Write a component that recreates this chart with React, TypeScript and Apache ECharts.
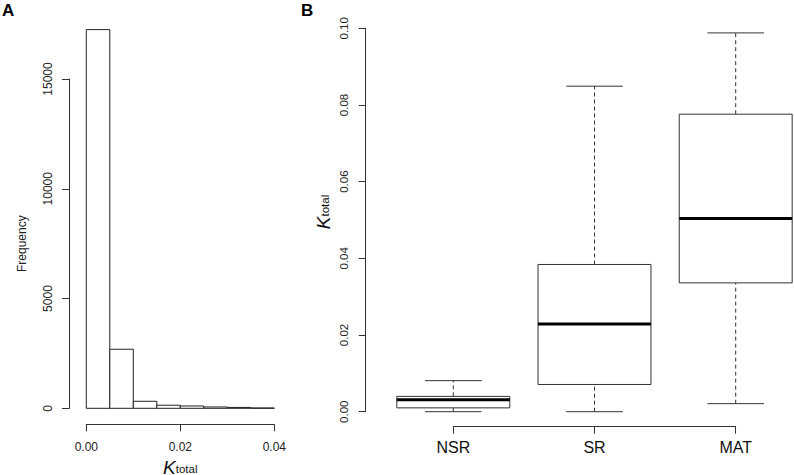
import React, { useEffect, useRef } from "react";
import * as echarts from "echarts";

// Panel A: histogram of K_total
const binStart = [0, 0.005, 0.01, 0.015, 0.02, 0.025, 0.03, 0.035];
const binEnd = [0.005, 0.01, 0.015, 0.02, 0.025, 0.03, 0.035, 0.04];
const binCounts = [17250, 2690, 320, 140, 105, 60, 40, 15];
const freqTicks = [0, 5000, 10000, 15000];

// Panel B: boxplots of K_total by group
const groups = ["NSR", "SR", "MAT"];
const whiskerLow = [0.0, 0.0, 0.0021];
const q1 = [0.001, 0.0071, 0.0336];
const median = [0.0031, 0.0229, 0.0504];
const q3 = [0.004, 0.0384, 0.0776];
const whiskerHigh = [0.0081, 0.0849, 0.0988];

const AXIS = "#333";
const FONT = "'Liberation Sans', Arial, sans-serif";

export default function App() {
  const ref = useRef<HTMLDivElement>(null);
  useEffect(() => {
    document.body.style.margin = "0";
    if (!ref.current) return;
    const chart = echarts.init(ref.current, undefined, { renderer: "svg" });

    const histData = binCounts.map((c, i) => [binStart[i], binEnd[i], c]);
    const boxData = groups.map((_, i) => [i + 1, whiskerLow[i], q1[i], median[i], q3[i], whiskerHigh[i]]);

    const axisCommon = {
      axisLine: { show: true, onZero: false, lineStyle: { color: AXIS, width: 1 } },
      axisTick: { show: true, length: 7, lineStyle: { color: AXIS, width: 1 } },
      splitLine: { show: false },
    };

    const kRich = {
      k: { fontSize: 19, lineHeight: 18, fontStyle: "italic", fontFamily: FONT, color: "#111", verticalAlign: "middle" },
      s: { fontSize: 11.5, lineHeight: 18, fontFamily: FONT, color: "#111", verticalAlign: "middle", padding: [3, 0, 0, 0] },
    };

    const option: any = {
      animation: false,
      backgroundColor: "#fff",
      textStyle: { fontFamily: FONT },
      grid: [
        { left: 86.3, top: 79, width: 188, height: 329.3, outerBoundsMode: "none", containLabel: false },
        { left: 453.3, top: 28.3, width: 282.4, height: 383.4, outerBoundsMode: "none", containLabel: false },
      ],
      xAxis: [
        {
          gridIndex: 0,
          type: "value",
          min: 0,
          max: 0.04,
          interval: 0.02,
          offset: 16,
          ...axisCommon,
          axisLabel: {
            margin: 17,
            fontSize: 12,
            color: "#222",
            fontFamily: FONT,
            formatter: (v: number) => v.toFixed(2),
          },
          name: "{k|K}{s|total}",
          nameLocation: "middle",
          nameGap: 33,
          nameTextStyle: { rich: kRich },
        },
        {
          gridIndex: 1,
          type: "value",
          min: 1,
          max: 3,
          interval: 1,
          offset: 15,
          ...axisCommon,
          axisLabel: {
            margin: 13,
            fontSize: 16,
            color: "#111",
            fontFamily: FONT,
            formatter: (v: number) => groups[Math.round(v) - 1] ?? "",
          },
        },
      ],
      yAxis: [
        {
          gridIndex: 0,
          type: "value",
          min: 0,
          max: 15000,
          interval: 5000,
          offset: 17.3,
          ...axisCommon,
          axisLabel: {
            rotate: 90,
            margin: 15,
            fontSize: 12,
            color: "#222",
            fontFamily: FONT,
            formatter: (v: number) => (freqTicks.includes(v) ? String(v) : ""),
          },
          name: "Frequency",
          nameLocation: "middle",
          nameGap: 41,
          nameRotate: 90,
          nameTextStyle: { fontSize: 12, color: "#222", fontFamily: FONT },
        },
        {
          gridIndex: 1,
          type: "value",
          min: 0,
          max: 0.1,
          interval: 0.02,
          offset: 87.6,
          ...axisCommon,
          axisLabel: {
            rotate: 90,
            margin: 16,
            fontSize: 11.5,
            color: "#222",
            fontFamily: FONT,
            formatter: (v: number) => v.toFixed(2),
          },
          name: "{k|K}{s|total}",
          nameLocation: "middle",
          nameGap: 33,
          nameRotate: 90,
          nameTextStyle: { rich: kRich, padding: [0, 0, 0, 16] },
        },
      ],
      graphic: [
        { type: "text", left: 2, top: 2, style: { text: "A", fontSize: 17, fontWeight: "bold", fontFamily: FONT, fill: "#000" } },
        { type: "text", left: 301, top: 2, style: { text: "B", fontSize: 17, fontWeight: "bold", fontFamily: FONT, fill: "#000" } },
      ],
      series: [
        {
          type: "custom",
          xAxisIndex: 0,
          yAxisIndex: 0,
          clip: false,
          data: histData,
          encode: { x: [0, 1], y: 2 },
          renderItem: (params: any, api: any) => {
            const p0 = api.coord([api.value(0), api.value(2)]);
            const p1 = api.coord([api.value(1), 0]);
            return {
              type: "rect",
              shape: { x: p0[0], y: p0[1], width: p1[0] - p0[0], height: p1[1] - p0[1] },
              style: { fill: "#fff", stroke: "#222", lineWidth: 1 },
            };
          },
        },
        {
          type: "custom",
          xAxisIndex: 1,
          yAxisIndex: 1,
          clip: false,
          data: boxData,
          encode: { x: 0, y: [1, 2, 3, 4, 5] },
          renderItem: (params: any, api: any) => {
            const c = api.value(0);
            const lo = api.coord([c, api.value(1)]);
            const b1 = api.coord([c, api.value(2)]);
            const md = api.coord([c, api.value(3)]);
            const b3 = api.coord([c, api.value(4)]);
            const hi = api.coord([c, api.value(5)]);
            const left = api.coord([c - 0.4, 0])[0];
            const right = api.coord([c + 0.4, 0])[0];
            const cl = api.coord([c - 0.2, 0])[0];
            const cr = api.coord([c + 0.2, 0])[0];
            const x = lo[0];
            const ln = (x1: number, y1: number, x2: number, y2: number, style: any) => ({
              type: "line",
              shape: { x1, y1, x2, y2 },
              style,
            });
            const solid = { stroke: "#333", lineWidth: 1 };
            const dashed = { stroke: "#333", lineWidth: 1, lineDash: [4, 3] };
            return {
              type: "group",
              children: [
                ln(x, b3[1], x, hi[1], dashed),
                ln(x, lo[1], x, b1[1], dashed),
                ln(cl, hi[1], cr, hi[1], solid),
                ln(cl, lo[1], cr, lo[1], solid),
                {
                  type: "rect",
                  shape: { x: left, y: b3[1], width: right - left, height: b1[1] - b3[1] },
                  style: { fill: "#fff", stroke: "#333", lineWidth: 1 },
                },
                ln(left, md[1], right, md[1], { stroke: "#000", lineWidth: 3 }),
              ],
            };
          },
        },
      ],
    };
    chart.setOption(option);
    return () => chart.dispose();
  }, []);
  return <div ref={ref} style={{ width: 794, height: 475 }} />;
}
